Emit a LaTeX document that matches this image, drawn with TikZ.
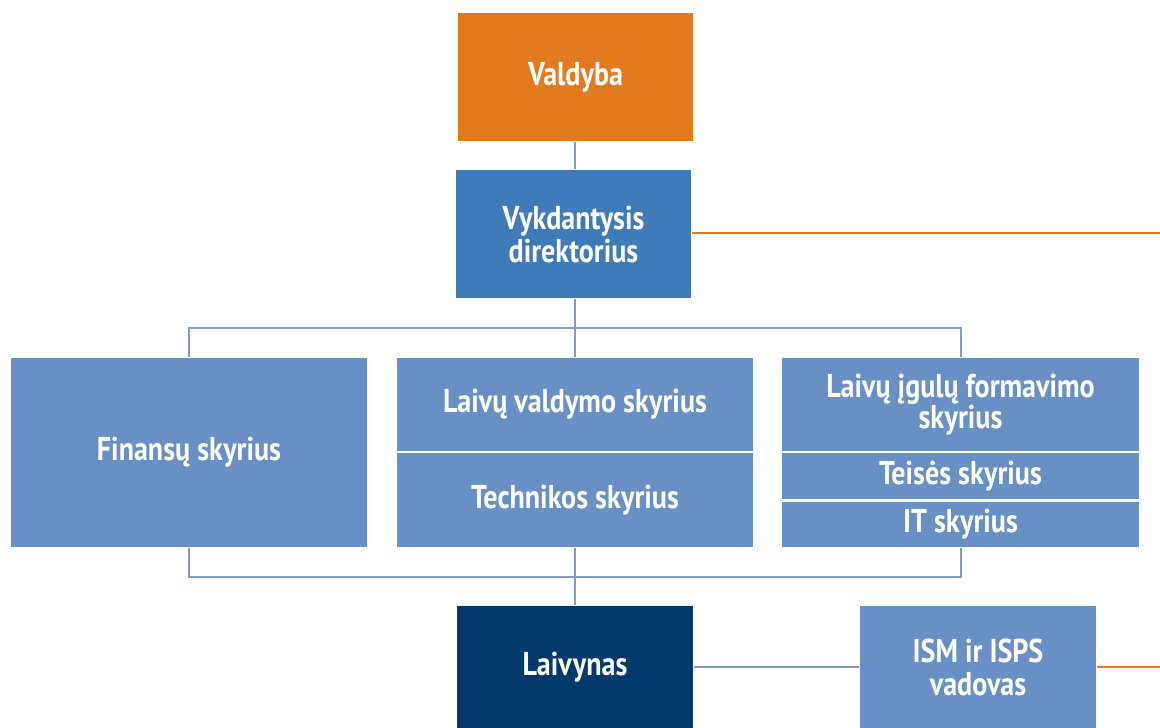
\documentclass[tikz,border=0pt]{standalone}
\usepackage{fontspec}
\setmainfont[FakeStretch=0.85]{PT Sans}
\usepackage{tikz}
\usetikzlibrary{positioning}
\definecolor{orgorange}{HTML}{E27A1E}
\definecolor{orgmid}{HTML}{3F7AB9}
\definecolor{orglight}{HTML}{6890C4}
\definecolor{orgnavy}{HTML}{023A6B}
\definecolor{orgline}{HTML}{7C9DC9}
\tikzset{unit box/.style={rectangle,inner sep=0pt,text=white,align=center,
        font=\fontsize{33}{33}\selectfont\bfseries,minimum width=356pt}}
\begin{document}
\begin{tikzpicture}[x=1pt,y=-1pt,line width=2pt]
    \tikzset{dept/.style={unit box,fill=orglight},
             link/.style={draw=orgline},
             orglink/.style={draw=orgorange}}
    \useasboundingbox (0,0) rectangle (1160,728);

    \node[unit box,fill=orgorange,minimum width=235pt,minimum height=128pt] (valdyba) at (575.5,77) {Valdyba};
    \node[unit box,fill=orgmid,minimum width=235pt,minimum height=128pt] (vykd) at (573.5,234) {Vykdantysis\\direktorius};

    \node[dept,minimum height=189pt] (finansu) at (189,452.5) {Finansų skyrius};
    \node[dept,minimum height=93pt] (valdymo) at (575,404.5) {Laivų valdymo skyrius};
    \node[dept,minimum height=94pt] (technikos) at (575,500) {Technikos skyrius};
    \node[dept,minimum width=357pt,minimum height=93pt] (igulu) at (960.5,404.5) {Laivų įgulų formavimo\\[-2pt]skyrius};
    \node[dept,minimum width=357pt,minimum height=46pt] (teises) at (960.5,476) {Teisės skyrius};
    \node[dept,minimum width=357pt,minimum height=45pt] (it) at (960.5,524.5) {IT skyrius};

    \node[unit box,fill=orgnavy,minimum width=236pt,minimum height=122pt] (laivynas) at (575,667) {Laivynas};
    \node[unit box,fill=orglight,minimum width=236pt,minimum height=122pt] (ism) at (978,667) {ISM ir ISPS\\vadovas};

    \coordinate (topjoin) at (575,328);
    \coordinate (botjoin) at (575,577);
    \coordinate (edgeA) at (1160,233);
    \coordinate (edgeB) at (1160,667);

    \path[link] (valdyba.south -| topjoin) -- (vykd.north -| topjoin);
    \path[link] (vykd.south -| topjoin) -- (topjoin) -- (valdymo.north);
    \path[link] (finansu.north) |- (topjoin) -| (igulu.north);
    \path[link] (finansu.south) |- (botjoin) -| (it.south);
    \path[link] (technikos.south) -- (botjoin) -- (laivynas.north);
    \path[link] (laivynas.east) -- (ism.west);
    \path[orglink] (vykd.east |- edgeA) -- (edgeA);
    \path[orglink] (ism.east) -- (edgeB);
\end{tikzpicture}
\end{document}
